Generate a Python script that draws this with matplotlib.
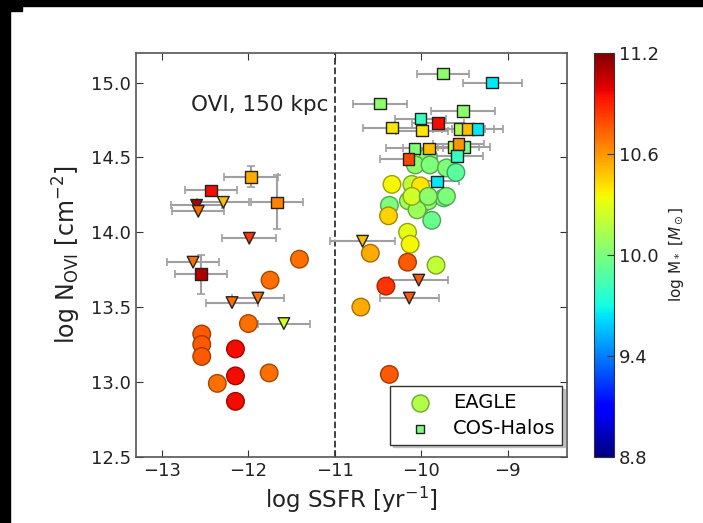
import numpy as np
import matplotlib
matplotlib.use("Agg")
import matplotlib.pyplot as plt
from matplotlib.patches import Rectangle

# EAGLE galaxies: log SSFR, log N_OVI, log M*
eagle_x = [-11.41, -11.75, -12.00, -12.54, -12.54, -12.54, -12.15, -12.36, -12.15, -12.15, -11.76,
           -10.59, -10.16, -10.13, -10.16, -9.83, -10.41, -10.70, -10.37, -9.88,
           -10.37, -10.38, -10.15, -10.01, -9.92, -10.05, -9.74, -9.92, -10.07, -9.90,
           -9.71, -9.60, -10.34, -10.11, -10.01, -10.11, -9.92, -9.71]
eagle_y = [13.82, 13.68, 13.39, 13.32, 13.25, 13.17, 13.22, 12.99, 13.04, 12.87, 13.06,
           13.86, 14.00, 13.92, 13.80, 13.78, 13.64, 13.50, 13.05, 14.08,
           14.18, 14.11, 14.21, 14.18, 14.21, 14.15, 14.23, 14.51, 14.45, 14.45,
           14.43, 14.40, 14.32, 14.32, 14.31, 14.24, 14.24, 14.24]
eagle_m = [10.70, 10.70, 10.70, 10.75, 10.75, 10.75, 10.95, 10.70, 10.95, 10.95, 10.70,
           10.55, 10.30, 10.35, 10.75, 10.20, 10.85, 10.55, 10.75, 9.95,
           10.00, 10.45, 10.10, 10.00, 10.05, 10.10, 9.95, 10.00, 10.05, 10.00,
           10.00, 9.90, 10.35, 10.20, 10.40, 10.25, 10.05, 10.00]

# COS-Halos detections (squares)
det_x = [-9.75, -9.18, -10.48, -9.52, -10.01, -9.81, -10.34, -9.99, -9.56, -9.46, -9.35,
         -10.08, -9.91, -9.63, -9.51, -9.57, -9.59, -10.15, -9.82,
         -12.43, -11.97, -11.67, -12.55]
det_y = [15.06, 15.00, 14.86, 14.81, 14.76, 14.73, 14.70, 14.68, 14.69, 14.69, 14.69,
         14.56, 14.56, 14.57, 14.57, 14.59, 14.51, 14.49, 14.34,
         14.28, 14.37, 14.20, 13.72]
det_m = [10.05, 9.65, 10.05, 10.05, 9.80, 10.95, 10.40, 10.40, 10.15, 10.50, 9.65,
         10.00, 10.50, 10.20, 10.00, 10.60, 9.80, 10.80, 9.65,
         10.95, 10.55, 10.65, 11.10]
det_xerr = [0.30, 0.34, 0.31, 0.37, 0.30, 0.30, 0.33, 0.30, 0.30, 0.30, 0.30,
            0.33, 0.30, 0.30, 0.30, 0.30, 0.30, 0.33, 0.26,
            0.30, 0.31, 0.30, 0.30]
det_yerr = [0.02, 0.02, 0.02, 0.02, 0.02, 0.02, 0.02, 0.02, 0.02, 0.02, 0.02,
            0.02, 0.02, 0.02, 0.02, 0.02, 0.02, 0.02, 0.02,
            0.02, 0.07, 0.18, 0.13]

# COS-Halos upper limits (triangles)
lim_x = [-12.60, -12.58, -12.29, -11.99, -12.64, -12.19, -11.89, -11.59, -10.68, -10.03, -10.14]
lim_y = [14.18, 14.14, 14.20, 13.96, 13.80, 13.53, 13.56, 13.39, 13.94, 13.68, 13.56]
lim_m = [11.10, 10.70, 10.50, 10.85, 10.70, 10.70, 10.70, 10.25, 10.50, 10.75, 10.75]
lim_xerr = [0.30, 0.30, 0.30, 0.31, 0.30, 0.30, 0.30, 0.30, 0.38, 0.34, 0.34]

vmin, vmax = 8.8, 11.2
cmap = plt.get_cmap("jet")
norm = plt.Normalize(vmin, vmax)


def darker(vals, f=0.6):
    c = cmap(norm(np.asarray(vals)))
    c[:, :3] *= f
    return c


fig = plt.figure(figsize=(7.03, 5.23), dpi=100)
ax = fig.add_axes([0.1935, 0.1268, 0.6125, 0.7724])

# error bars
ax.errorbar(det_x, det_y, xerr=det_xerr, yerr=det_yerr, fmt="none", ecolor="#a0a0a0",
            elinewidth=1.5, capsize=3, capthick=1.2, zorder=1)
ax.errorbar(lim_x, lim_y, xerr=lim_xerr, fmt="none", ecolor="#a0a0a0",
            elinewidth=1.5, capsize=3, capthick=1.2, zorder=1)

sc = ax.scatter(eagle_x, eagle_y, c=eagle_m, cmap=cmap, norm=norm, s=160, marker="o",
                edgecolors=darker(eagle_m, 0.65), linewidths=1.0, zorder=2)
ax.scatter(det_x, det_y, c=det_m, cmap=cmap, norm=norm, s=70, marker="s",
           edgecolors="#222222", linewidths=1.0, zorder=3)
ax.scatter(lim_x, lim_y, c=lim_m, cmap=cmap, norm=norm, s=70, marker="v",
           edgecolors="#222222", linewidths=1.0, zorder=3)

ax.axvline(-11, color="#333333", linestyle="--", linewidth=1.3, zorder=0)
ax.text(-12.67, 14.85, "OVI, 150 kpc", fontsize=15.5, ha="left", va="center", color="#222222")

ax.set_xlim(-13.3, -8.32)
ax.set_ylim(12.5, 15.2)
ax.set_xticks([-13, -12, -11, -10, -9])
ax.set_yticks([12.5, 13.0, 13.5, 14.0, 14.5, 15.0])
ax.set_yticklabels(["12.5", "13.0", "13.5", "14.0", "14.5", "15.0"])
ax.tick_params(direction="in", top=True, right=True, labelsize=13, length=5, colors="#333333",
               labelcolor="#222222")
for s in ax.spines.values():
    s.set_color("#555555")
    s.set_linewidth(1.2)

ax.set_xlabel(r"log SSFR [yr$^{-1}$]", fontsize=16.5, color="#222222")
ax.set_ylabel(r"log N$_{\rm OVI}$ [cm$^{-2}$]", fontsize=17, color="#222222", labelpad=6)

# legend
leg_c = cmap(norm(10.15))
h1 = ax.scatter([], [], s=150, marker="o", color=leg_c, edgecolors=darker([10.15], 0.65))
h2 = ax.scatter([], [], s=35, marker="s", color=cmap(norm(10.0)), edgecolors="#222222")
leg = ax.legend([h1, h2], ["EAGLE", "COS-Halos"], loc="lower right", fontsize=14,
                fancybox=False, framealpha=1, edgecolor="#333333", borderpad=0.35,
                handletextpad=0.5, labelspacing=0.35, handlelength=2.4, borderaxespad=0,
                scatterpoints=1, shadow={"color": "#b0b0b0", "alpha": 0.7, "ox": 2, "oy": -2},
                bbox_to_anchor=(0.99, 0.03))

# colorbar
cax = fig.add_axes([0.845, 0.1268, 0.0285, 0.7724])
cb = fig.colorbar(sc, cax=cax, ticks=[8.8, 9.4, 10.0, 10.6, 11.2])
cb.ax.set_yticklabels(["8.8", "9.4", "10.0", "10.6", "11.2"])
cb.ax.tick_params(direction="in", labelsize=13, length=5, colors="#333333", labelcolor="#222222")
cb.outline.set_edgecolor("#333333")
cb.set_label(r"log M$_*$ [$M_\odot$]", fontsize=11, color="#222222", labelpad=6)

# black screenshot border
fig.patches.append(Rectangle((0, 0), 10 / 703, 1, transform=fig.transFigure, color="black", zorder=10))
fig.patches.append(Rectangle((0, 1 - 6 / 523), 1, 6 / 523, transform=fig.transFigure, color="black", zorder=10))
fig.patches.append(Rectangle((0, 1 - 11 / 523), 22 / 703, 11 / 523, transform=fig.transFigure, color="black", zorder=10))

fig.savefig("out.png", dpi=100)
